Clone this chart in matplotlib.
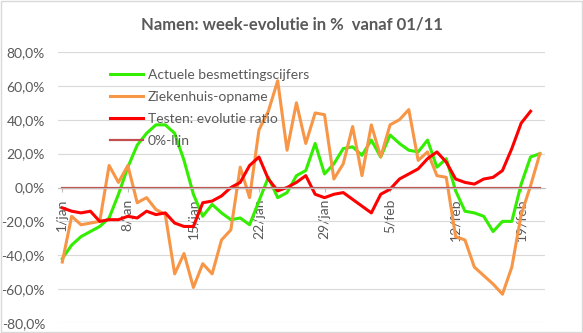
import matplotlib
matplotlib.use('Agg')
import matplotlib.pyplot as plt
from matplotlib.patches import Rectangle
from matplotlib.ticker import FuncFormatter
import numpy as np
import pandas as pd

plt.rcParams['font.family'] = ['Lato', 'DejaVu Sans']

dates = pd.date_range('2021-01-01', periods=52, freq='D')
tick_labels = ['1/jan', '8/jan', '15/jan', '22/jan', '29/jan', '5/feb', '12/feb', '19/feb']

# week-evolutie in %
besmettingen = [-42, -34, -29, -26, -23, -18, -4, 12, 25, 32, 37, 37, 32, 16, -4, -17,
                -10, -15, -19, -18, -22, -8, 6, -6, -3, 7, 10, 26, 8, 14, 23, 24,
                19, 28, 18, 31, 26, 22, 21, 28, 12, 17, -2, -14, -15, -17, -26, -20,
                -20, 2, 18, 20]
ziekenhuis = [-44, -17, -22, -21, -20, 13, 3, 13, -9, -6, -13, -16, -51, -39, -59, -45,
              -51, -31, -25, 12, -6, 34, 45, 63, 22, 50, 26, 44, 43, 5, 14, 36,
              7, 37, 18, 37, 40, 46, 16, 21, 7, 6, -29, -31, -47, -52, -57, -63,
              -47, -16, 1, 20]
testen = [-12, -14, -15, -14, -20, -19, -19, -17, -18, -14, -16, -15, -21, -23, -23, -9,
          -8, -5, 0, 3, 13, 18, 5, -2, 0, 3, 7, -4, -6, -4, -3, -7,
          -11, -15, -4, -1, 5, 8, 11, 17, 21, 15, 5, 3, 2, 5, 6, 10,
          23, 38, 45, np.nan]
nul_lijn = [0] * len(dates)

grey = '#595959'

fig = plt.figure(figsize=(5.83, 3.33), dpi=100)
ax = fig.add_axes([57.6 / 583, 10 / 333, 487 / 583, 271 / 333])

ax.plot(dates, besmettingen, color='#33EE00', lw=2.2, label='Actuele besmettingscijfers')
ax.plot(dates, ziekenhuis, color='#F79646', lw=2.2, label='Ziekenhuis-opname')
ax.plot(dates, testen, color='#FF0000', lw=2.2, label='Testen: evolutie ratio')
ax.plot(dates, nul_lijn, color='#C0504D', lw=1.6, label='0%-lijn')

ax.set_ylim(-80, 80)
ax.set_yticks(np.arange(-80, 81, 20))
ax.yaxis.set_major_formatter(FuncFormatter(lambda v, p: f'{v:.1f}%'.replace('.', ',')))
ax.set_xlim(dates[0] - pd.Timedelta(hours=12), dates[-1] + pd.Timedelta(hours=12))
ax.set_xticks(dates[::7])
ax.set_xticklabels(tick_labels)

ax.grid(axis='y', color='#D9D9D9', lw=0.8)
ax.set_axisbelow(True)
for s in ['top', 'right', 'left']:
    ax.spines[s].set_visible(False)
ax.spines['bottom'].set_position(('data', 0))
ax.spines['bottom'].set_color('#BFBFBF')
ax.tick_params(axis='y', length=0, pad=9, labelsize=10, labelcolor=grey)
ax.tick_params(axis='x', length=3, color='#BFBFBF', pad=5, labelsize=10, labelcolor=grey,
               labelrotation=90)
for t in ax.get_xticklabels():
    t.set_rotation(90)
    t.set_ha('center')
    t.set_va('top')

fig.text(0.5, 0.925, 'Namen: week-evolutie in %  vanaf 01/11', ha='center', va='center',
         fontsize=12, fontweight='bold', color=grey)

leg = ax.legend(loc='upper left', bbox_to_anchor=(110 / 583, 264 / 333),
                bbox_transform=fig.transFigure, frameon=False, fontsize=10,
                handlelength=2.4, handletextpad=0.3, labelspacing=0.72,
                borderpad=0, borderaxespad=0)
for t in leg.get_texts():
    t.set_color(grey)

fig.patches.append(Rectangle((0.001, 0.002), 0.997, 0.996, transform=fig.transFigure,
                             fill=False, edgecolor='#D9D9D9', lw=1))

fig.savefig('out.png', dpi=100)
